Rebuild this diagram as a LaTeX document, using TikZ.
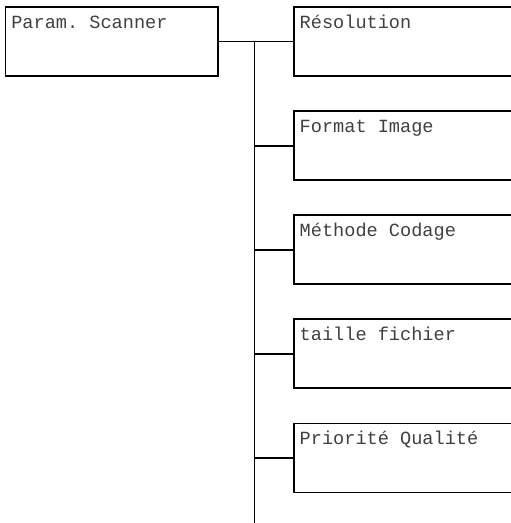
\documentclass[tikz,border=0pt]{standalone}
\usepackage{fontspec}
\setmonofont{Liberation Mono}
\usepackage{tikz}
\usetikzlibrary{calc}

\begin{document}
\begin{tikzpicture}[x=1pt,y=-1pt,line join=miter,
  menubox/.style={draw,line width=1.8pt,rectangle,inner sep=0pt,minimum height=69pt},
  menutxt/.style={anchor=base west,inner sep=0pt,text=black!75,font=\ttfamily\fontsize{18.6}{21}\selectfont},
  wire/.style={line width=1.8pt}]
  \useasboundingbox (0,0) rectangle (511,523);
  \node[menubox,minimum width=212.5pt] (scan) at (111.75,41.5) {};
  \node[menubox,minimum width=225pt,anchor=west] (res) at (293,41.5) {};
  \node[menubox,minimum width=225pt,anchor=west] (fmt) at (293,145.6) {};
  \node[menubox,minimum width=225pt,anchor=west] (cod) at (293,249.7) {};
  \node[menubox,minimum width=225pt,anchor=west] (size) at (293,353.8) {};
  \node[menubox,minimum width=225pt,anchor=west] (qual) at (293,457.9) {};
  \coordinate (T0) at (254.5,41.5);
  \coordinate (Tend) at (254.5,523);
  \draw[wire] (scan.east) -- (res.west);
  \draw[wire] (T0) -- (Tend);
  \draw[wire] (T0 |- fmt.west) -- (fmt.west);
  \draw[wire] (T0 |- cod.west) -- (cod.west);
  \draw[wire] (T0 |- size.west) -- (size.west);
  \draw[wire] (T0 |- qual.west) -- (qual.west);
  \node[menutxt] (scanT) at ($(scan.north west)+(6.5,22)$) {Param. Scanner};
  \node[menutxt] (resT) at ($(res.north west)+(6.5,22)$) {Résolution};
  \node[menutxt] (fmtT) at ($(fmt.north west)+(6.5,22)$) {Format Image};
  \node[menutxt] (codT) at ($(cod.north west)+(6.5,22)$) {Méthode Codage};
  \node[menutxt] (sizeT) at ($(size.north west)+(6.5,22)$) {taille fichier};
  \node[menutxt] (qualT) at ($(qual.north west)+(6.5,22)$) {Priorité Qualité};
\end{tikzpicture}
\end{document}
